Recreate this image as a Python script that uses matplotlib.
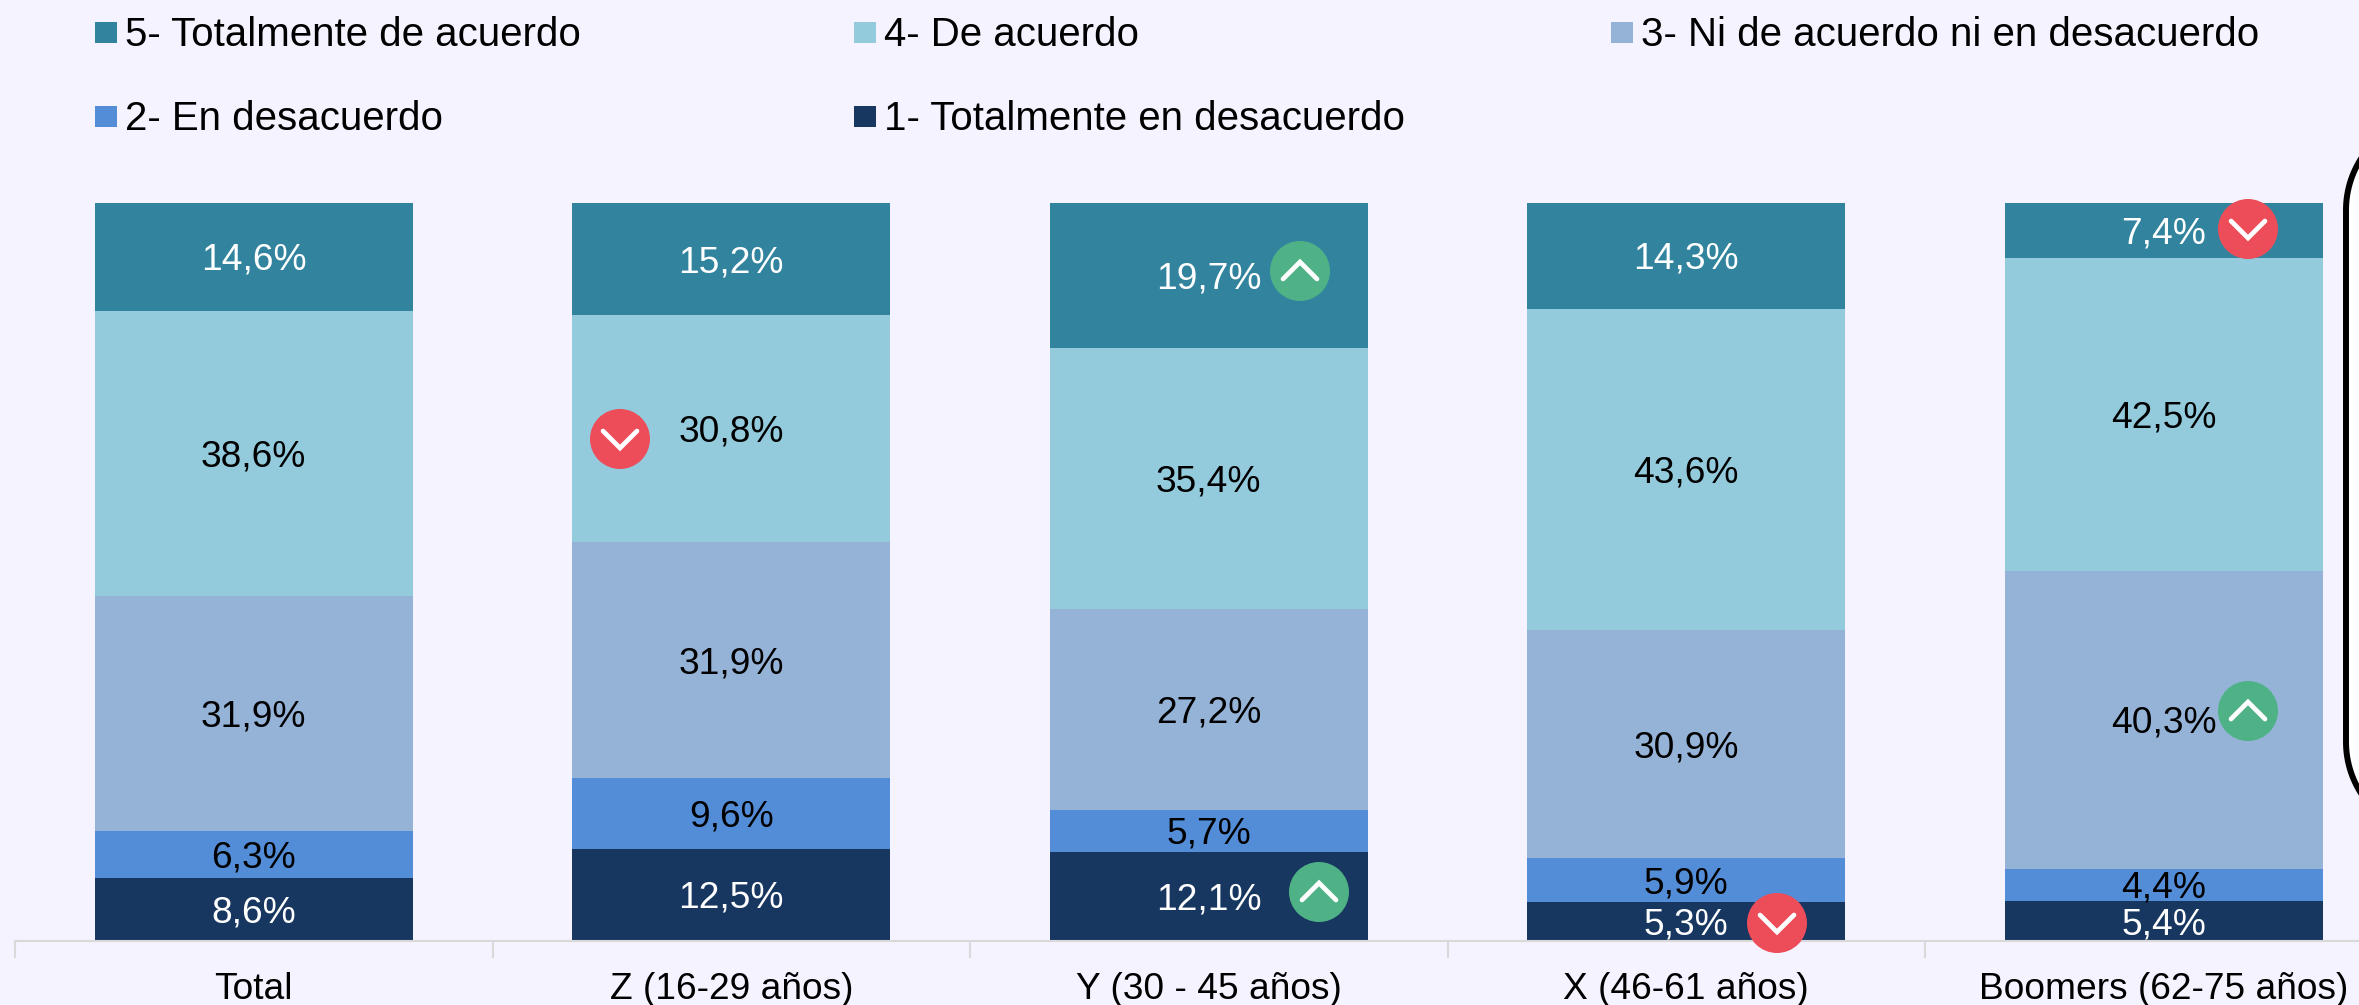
import matplotlib
matplotlib.use("Agg")
import matplotlib.pyplot as plt
from matplotlib.patches import Circle, Rectangle
import numpy as np

plt.rcParams["font.family"] = ["Liberation Sans", "DejaVu Sans"]

groups = ["Total", "Z (16-29 años)", "Y (30 - 45 años)", "X (46-61 años)", "Boomers (62-75 años)"]
muy_desacuerdo = [8.6, 12.5, 12.1, 5.3, 5.4]
desacuerdo = [6.3, 9.6, 5.7, 5.9, 4.4]
neutral = [31.9, 31.9, 27.2, 30.9, 40.3]
acuerdo = [38.6, 30.8, 35.4, 43.6, 42.5]
muy_acuerdo = [14.6, 15.2, 19.7, 14.3, 7.4]
series_names = ["1- Totalmente en desacuerdo", "2- En desacuerdo", "3- Ni de acuerdo ni en desacuerdo",
                "4- De acuerdo", "5- Totalmente de acuerdo"]
# group, series, up/down
flags = [(1, 3, "down"), (2, 4, "up"), (2, 0, "up"), (3, 0, "down"), (4, 4, "down"), (4, 2, "up")]

series = [muy_desacuerdo, desacuerdo, neutral, acuerdo, muy_acuerdo]
colors = ["#183760", "#548DD7", "#95B2D7", "#93CBDD", "#32849E"]
text_colors = ["white", "black", "black", "black", "white"]
bg = "#F5F3FF"

W, H = 2359, 1005
FS = 26.7
LEGEND_FS = 29

fig = plt.figure(figsize=(W / 100, H / 100), dpi=100, facecolor=bg)
ax = fig.add_axes([15 / W, (H - 941) / H, 2387.5 / W, 738 / H], facecolor="none")

# overlay in pixel coords for legend, icons and the bracket
ov = fig.add_axes([0, 0, 1, 1], facecolor="none", zorder=5)
ov.set_xlim(0, W)
ov.set_ylim(H, 0)
ov.axis("off")

x = np.arange(len(groups))
totals = np.sum(series, axis=0)
bottom = np.zeros(len(groups))
for i, vals in enumerate(series):
    share = np.array(vals) / totals * 100
    ax.bar(x, share, width=2 / 3, bottom=bottom, color=colors[i])
    for j, v in enumerate(vals):
        ax.annotate(f"{v:.1f}%".replace(".", ","), (j, bottom[j] + share[j] / 2), xytext=(0, -2.5),
                    textcoords="offset points", ha="center", va="center", color=text_colors[i], fontsize=FS)
    bottom += share

ax.set_xlim(-0.5, 4.5)
ax.set_ylim(0, 100)
ax.set_xticks(x, groups, fontsize=FS)
ax.set_xticks(np.arange(-0.5, 5), minor=True)
ax.tick_params(axis="x", which="major", length=0, pad=22)
ax.tick_params(axis="x", which="minor", length=12, width=1.5, color="#D9D9D9")
ax.set_yticks([])
for s in ["top", "left", "right"]:
    ax.spines[s].set_visible(False)
ax.spines["bottom"].set_color("#D9D9D9")
ax.spines["bottom"].set_linewidth(1.5)

# legend
legend_order = [4, 3, 2, 1, 0]
legend_x = [95, 854, 1611, 95, 854]
legend_y = [32, 32, 32, 116, 116]
for k, li in enumerate(legend_order):
    ov.add_patch(Rectangle((legend_x[k], legend_y[k] - 10), 22, 21, color=colors[li], lw=0))
    ov.text(legend_x[k] + 30, legend_y[k] + 3, series_names[li], fontsize=LEGEND_FS, va="center", ha="left")

# up / down icons beside the labels
icon_xy = [(620, 439), (1300, 271), (1319, 892), (1777, 923), (2248, 229), (2248, 711)]
for (g, s, d), (cx, cy) in zip(flags, icon_xy):
    col = "#4FB286" if d == "up" else "#EC4D58"
    ov.add_patch(Circle((cx, cy), 30, color=col, lw=0))
    sign = -1 if d == "up" else 1
    ov.plot([cx - 17, cx, cx + 17], [cy - sign * 8, cy + sign * 9, cy - sign * 8], color="white", lw=3.4,
            solid_capstyle="round", solid_joinstyle="miter")

# rounded box cut off by the right edge, white inside
r = 95
t = np.linspace(0, np.pi / 2, 40)
box_x = np.concatenate([2346 + r - r * np.sin(t), 2346 + r - r * np.cos(t)])
box_y = np.concatenate([210 - r * np.cos(t), 742 + r * np.sin(t)])
ov.fill(box_x, box_y, facecolor="white", edgecolor="none")
ov.plot(box_x, box_y, color="black", lw=4.3)

fig.savefig("out.png", dpi=100, facecolor=bg)
